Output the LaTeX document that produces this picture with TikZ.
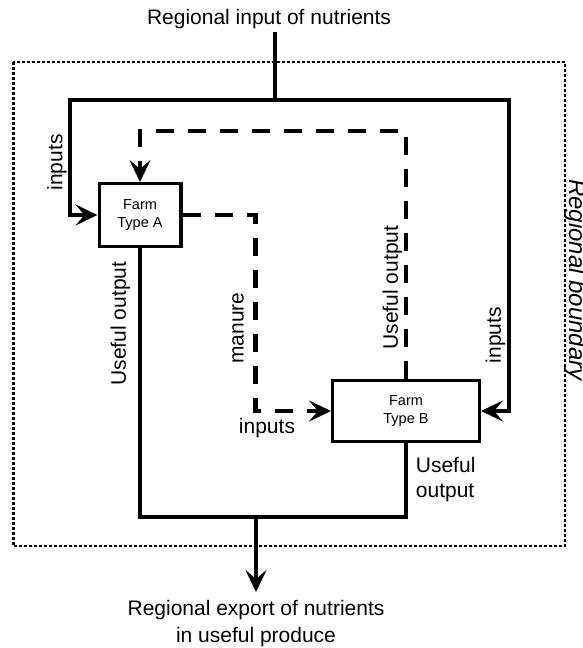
\documentclass[tikz,border=0pt]{standalone}
\usepackage{fontspec}
\setmainfont{Liberation Sans}
\usetikzlibrary{arrows.meta}
\begin{document}
\begin{tikzpicture}[x=1pt,y=-1pt,
  flow/.style={line width=4pt, line join=miter},
  dflow/.style={line width=4.3pt, dash pattern=on 18pt off 14pt},
  tipped/.style={-{Stealth[length=22pt,width=21pt,inset=9pt]}},
  bothtipped/.style={{Stealth[length=22pt,width=21pt,inset=9pt]}-{Stealth[length=22pt,width=21pt,inset=9pt]}},
  farm/.style={draw, line width=3.3pt, align=center, inner sep=0pt, font=\fontsize{14.5}{18}\selectfont},
  lbl/.style={font=\fontsize{21}{25}\selectfont, inner sep=0pt},
  vlbl/.style={lbl, rotate=90},
  boundary/.style={line width=2.5pt, dash pattern=on 2.5pt off 2.5pt}]
\useasboundingbox (0,0) rectangle (582,648);

% regional boundary
\draw[boundary] (13.4,62) rectangle (565,546);
\node[font=\fontsize{24}{28}\selectfont\itshape, rotate=-90, anchor=base, inner sep=0pt] (bnd) at (569,280) {Regional boundary};

% farms
\node[farm, minimum width=81.7pt, minimum height=62.7pt] (farmA) at (140,215) {Farm\\Type A};
\node[farm, minimum width=146.7pt, minimum height=60.7pt] (farmB) at (406,411) {Farm\\Type B};

% texts
\node[lbl, outer sep=3pt] (title) at (269,19) {Regional input of nutrients};
\node[lbl, align=center, anchor=north, font=\fontsize{21}{27}\selectfont] (export) at (256,600) {Regional export of nutrients\\in useful produce};

% coordinates
\coordinate (cl) at (70,100);
\coordinate (cr) at (508.5,100);
\coordinate (jn) at (275.4,100);
\coordinate (dt) at (140,131);
\coordinate (mt) at (255.4,215);
\coordinate (jb) at (256,517);

% solid input flows
\draw[flow] (title.south -| jn) -- (jn);
\draw[flow, bothtipped] (farmA.west) -| (cl) -- (cr) |- (farmB.east);

% dashed flows
\draw[dflow, tipped] (farmB.north) |- (dt) -- (farmA.north);
\draw[dflow, tipped] (farmA.east) -- (mt) |- (farmB.west);

% useful outputs
\draw[flow] (farmA.south) |- (jb) -| (farmB.south);
\draw[flow, tipped] (jb) -- ([yshift=8pt]export.north);

% labels
\node[vlbl] (lInA) at (57,162.5) {inputs};
\node[vlbl] (lUoA) at (120.5,323.5) {Useful output};
\node[vlbl] (lMan) at (238,328) {manure};
\node[vlbl] (lUoB) at (392.5,287.5) {Useful output};
\node[vlbl] (lInB) at (495.5,335) {inputs};
\node[lbl] (lInM) at (267,428) {inputs};
\node[lbl, align=left, anchor=west] (lUoBot) at (415.7,479.5) {Useful\\output};
\end{tikzpicture}
\end{document}
